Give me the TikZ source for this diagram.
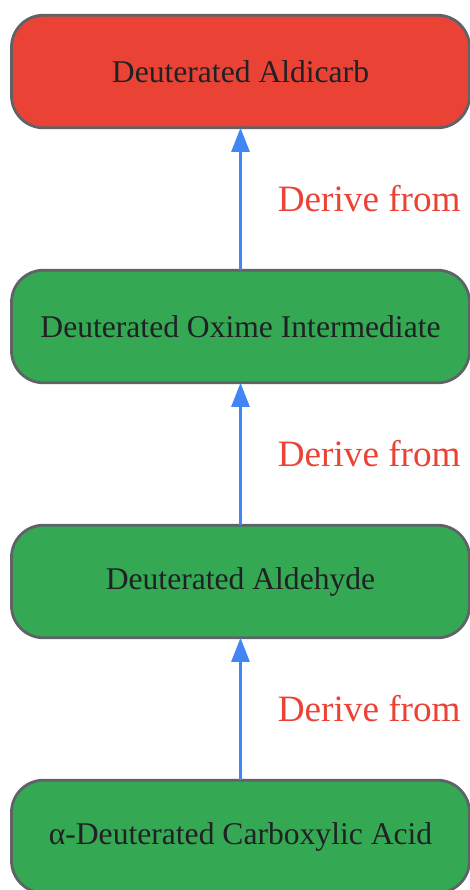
\documentclass[tikz,border=0pt]{standalone}
\usepackage{fontspec}
\setmainfont{Liberation Serif}
\usepackage{tikz,tkz-graph}
\usetikzlibrary{arrows.meta}
\definecolor{stageRed}{HTML}{EA4335}
\definecolor{stageGreen}{HTML}{34A853}
\definecolor{stageBorder}{HTML}{5F6368}
\definecolor{linkBlue}{HTML}{4285F4}
\definecolor{stageText}{HTML}{202124}
\tikzstyle{stageRedBox}=[shape = rectangle, rounded corners = 16pt, minimum width = 229pt, minimum height = 56.3pt, inner sep = 0pt, draw = stageBorder, line width = 1.4pt, fill = stageRed, text = stageText, font = \fontsize{15.8}{19}\selectfont]
\tikzstyle{stageGreenBox}=[stageRedBox, fill = stageGreen]

\begin{document}
\begin{tikzpicture}[x = 0.5pt, y = -0.5pt]
\tikzstyle{VertexStyle} = []
\tikzstyle{EdgeStyle} = [draw, -{Triangle[width = 9pt, length = 12pt]}, line width = 1.3pt, linkBlue]
\tikzstyle{LabelStyle} = [inner sep = 0pt, fill = none, text = stageRed, font = \fontsize{18.6}{22}\selectfont]
\useasboundingbox (0,0) rectangle (470,890);
\Vertex[style = stageRedBox, x = 240.5, y = 71.5, L = {Deuterated Aldicarb}]{v0}
\Vertex[style = stageGreenBox, x = 240.5, y = 326.5, L = {Deuterated Oxime Intermediate}]{v1}
\Vertex[style = stageGreenBox, x = 240.5, y = 581.5, L = {Deuterated Aldehyde}]{v2}
\Vertex[style = stageGreenBox, x = 240.5, y = 836.5, L = {α-Deuterated Carboxylic Acid}]{v3}
\Edge[label = {Derive from}, labelstyle={right, xshift = 18pt, fill=none}](v1)(v0)
\Edge[label = {Derive from}, labelstyle={right, xshift = 18pt, fill=none}](v2)(v1)
\Edge[label = {Derive from}, labelstyle={right, xshift = 18pt, fill=none}](v3)(v2)
\end{tikzpicture}
\end{document}
